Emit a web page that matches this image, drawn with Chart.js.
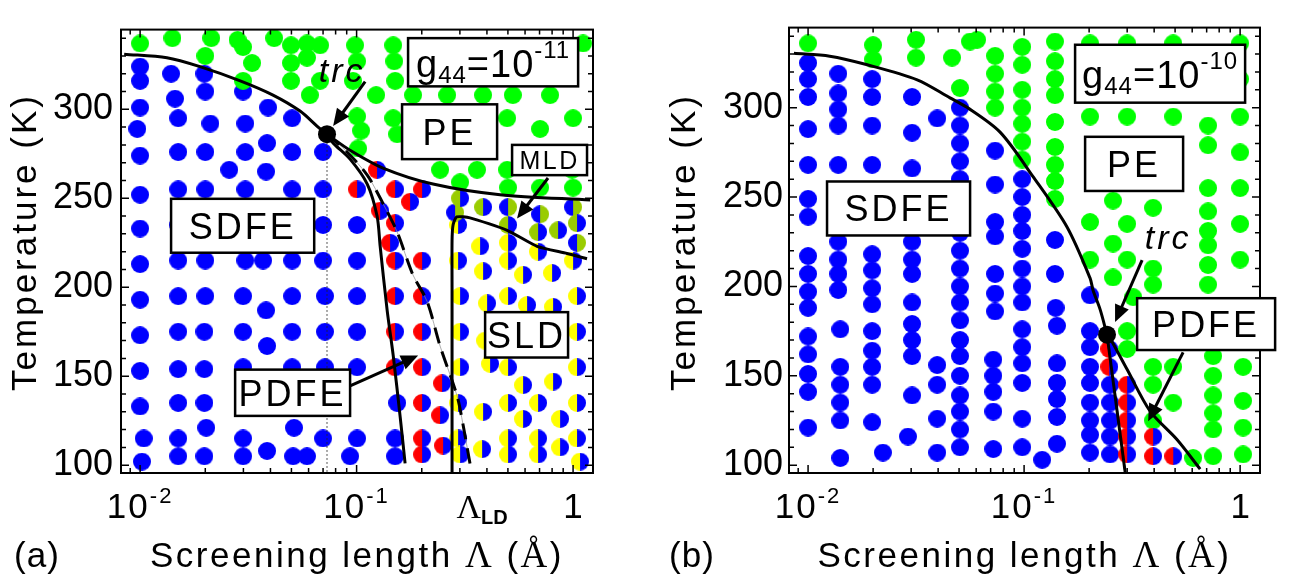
<!DOCTYPE html>
<html>
<head>
<meta charset="utf-8">
<script src="https://cdn.jsdelivr.net/npm/chart.js@4.4.1/dist/chart.umd.min.js"></script>
<style>
  html, body { margin: 0; padding: 0; background: #fff; }
  #wrap { position: relative; width: 1290px; height: 585px; }
  .panel { position: absolute; top: 0; width: 645px; height: 585px; }
</style>
</head>
<body>
<div id="wrap">
  <div class="panel" style="left:0"><canvas id="chartA" width="645" height="585"></canvas></div>
  <div class="panel" style="left:645px"><canvas id="chartB" width="645" height="585"></canvas></div>
</div>
<script>
const SANS = '"Liberation Sans", Arial, sans-serif';
const SERIF = '"Liberation Serif", "Times New Roman", serif';
const BLUE = '#0000ff', GREEN = '#00ff00', RED = '#ff0000', YELLOW = '#ffff00', OLIVE = '#99cc00';

// axes (screening length in angstrom, temperature in K)
const lambdaMin = 0.00816, lambdaMax = 1.236;
const tempMin = 95.6, tempMax = 344.8;
const tempTicks = [100, 150, 200, 250, 300];
const lambdaMajor = [0.01, 0.1, 1];

// ---- panel (a): g44 = 1e-11 ----
const aBlue = [
  [0.0100,324],[0.0100,316],[0.0100,301],[0.0097,289],[0.0100,274],[0.0100,252],[0.0100,233],[0.0100,213],[0.0100,193],[0.0100,173],[0.0100,153],[0.0100,133],[0.0104,115],[0.0102,102],
  [0.0139,320],[0.0145,306],[0.0150,295],[0.0150,276],[0.0150,255],[0.0150,235],[0.0150,215],[0.0150,195],[0.0150,175],[0.0150,154],[0.0150,135],[0.0150,115],[0.0150,105],
  [0.0198,320],[0.0200,310],[0.0211,292],[0.0200,276],[0.0200,255],[0.0200,235],[0.0200,215],[0.0200,195],[0.0198,175],[0.0198,154],[0.0198,135],[0.0202,121],[0.0198,105],
  [0.0258,266],
  [0.0299,310],[0.0306,292],[0.0306,276],[0.0306,255],[0.0306,235],[0.0306,215],[0.0299,195],[0.0299,175],[0.0299,155],[0.0299,135],[0.0299,115],[0.0299,105],
  [0.0390,301],[0.0386,281],[0.0382,265],[0.0370,215],[0.0382,187],[0.0386,167],[0.0386,108],
  [0.0504,295],[0.0504,276],[0.0504,255],[0.0504,235],[0.0504,215],[0.0504,195],[0.0504,175],[0.0504,155],[0.0504,135],[0.0514,121],[0.0509,105],
  [0.0700,276],[0.0700,255],[0.0700,235],[0.0700,215],[0.0715,195],[0.0715,175],[0.0715,155],[0.0715,135],[0.0700,115],[0.0590,105],
  [0.1005,235],[0.1005,215],[0.1005,195],[0.1005,175],[0.1005,155],[0.1005,115],[0.0933,105],
  [0.1539,135],[0.1506,115],[0.1506,105],
];
const aGreen = [
  [0.0100,337],[0.0141,340],[0.0213,340],[0.0282,339],[0.0299,335],[0.0416,340],[0.0498,336],[0.0590,337],[0.0678,336],[0.0984,336],[0.1476,336],[1.112,337],
  [0.0200,330],[0.0329,326],[0.0498,326],[0.0590,329],[0.1005,327],[0.1492,327],
  [0.0299,316],[0.0498,316],[0.0678,316],[0.0963,316],[0.1507,316],
  [0.0608,308],[0.1231,308],[0.1824,308],[0.262,308],[0.384,308],[0.527,308],[0.783,308],
  [0.1005,296],[0.1476,295],[0.496,295],[1.0,295],
  [0.1049,288],[0.1539,286],[0.704,289],
  [0.1016,278],
  [0.243,266],[0.360,266],[0.496,266],[0.99,266],
  [0.3007,259],[0.5009,256],[0.7041,256],[1.0,256],
];
const aRedBlue = [
  [0.1243,266],[0.1005,255],[0.1506,255],[0.2007,255],[0.1766,248],[0.1284,243],[0.1506,236],[0.1428,225],
  [0.1506,215],[0.2007,215],[0.1506,195],[0.2007,195],[0.1506,175],[0.2007,175],[0.1506,155],[0.2007,155],
  [0.2483,146],[0.2007,135],[0.2430,128],[0.2007,115],[0.2509,111],[0.2007,106],
];
const aOliveBlue = [[0.3007,250],[0.384,245],[0.5009,235],[0.6892,231],[0.8525,232],[1.043,236]];
const aBlueOlive = [[0.2851,242],[0.5009,245],[0.7041,241],[1.0,245],[1.043,225]];
const aYellowBlue = [
  [0.2943,235],[0.3719,223],[0.5009,225],[0.6892,220],[0.2943,215],[0.384,209],[0.5009,215],[0.5877,207],[0.7998,208],[1.0,215],
  [0.3007,195],[0.4008,191],[0.5009,195],[0.6131,190],[0.8083,189],[1.043,195],
  [0.3007,175],[0.3923,170],[0.5009,175],[0.7041,175],[1.043,175],
  [0.3007,155],[0.4137,157],[0.5009,155],[0.5877,145],[0.8083,147],[1.043,155],
  [0.2943,135],[0.384,130],[0.5009,135],[0.6892,135],[0.5877,126],[0.871,126],[1.043,135],
  [0.2943,115],[0.38,109],[0.5009,115],[0.6892,115],[0.5009,106],[0.6892,106],[0.871,110],[1.043,115],[1.077,102],[0.3007,106],
];
const aTrc = [[0.073, 286]];
const aUpperCurve = [[0.00844,331],[0.0133,329],[0.0189,324],[0.029,316],[0.0411,308],[0.0548,299],[0.0664,290],[0.073,286]];
const aLdCurve = [[0.073,286],[0.0933,277],[0.1324,267],[0.2254,258],[0.4601,252],[1.2,249]];
const aSldMldLine = [[0.276,95.6],[0.276,200],[0.276,226],[0.279,235],[0.29,239.5],[0.334,239],[0.496,232],[0.682,223],[0.938,219],[1.16,216]];
const aSolidCurve = [[0.073,286],[0.078,281],[0.0933,272],[0.112,258],[0.1243,240],[0.1285,223],[0.1384,187],[0.1475,162],[0.159,127],[0.1675,101]];
const aDashedCurve = [[0.073,286],[0.0904,276],[0.112,263],[0.1325,247],[0.154,231],[0.182,207],[0.2117,192],[0.243,167],[0.291,139],[0.31,123],[0.334,101]];
const aDottedLine = [[0.073,286],[0.073,95.6]];

// ---- panel (b): g44 = 1e-10 ----
const bBlue = [
  [0.0100,325],[0.0100,316],[0.0100,306],[0.0100,288],[0.0100,268],[0.0100,249],[0.0100,239],[0.0100,217],[0.0100,207],[0.0100,197],[0.0100,188],[0.0100,172],[0.0100,162],[0.0100,151],[0.0100,141],[0.0100,121],
  [0.0138,319],[0.0138,308],[0.0138,299],[0.0138,290],[0.0138,268],[0.0138,225],[0.0138,215],[0.0138,207],[0.0138,198],[0.0141,176],[0.0141,155],[0.0141,145],[0.0141,135],[0.0141,125],[0.0141,104],
  [0.0198,316],[0.0198,306],[0.0198,290],[0.0198,268],[0.0198,218],[0.0198,209],[0.0198,199],[0.0198,190],[0.0198,175],[0.0198,164],[0.0198,155],[0.0198,145],[0.0198,124],
  [0.0222,107],[0.0290,116],
  [0.0303,306],[0.0303,286],[0.0303,266],[0.0303,225],[0.0303,215],[0.0303,207],[0.0303,191],[0.0303,179],[0.0303,170],[0.0303,161],[0.0303,139],
  [0.0396,294],[0.0396,156],[0.0396,145],[0.0396,126],[0.0396,107],
  [0.0505,300],[0.0505,290],[0.0505,280],[0.0505,270],[0.0505,260],[0.0505,250],[0.0505,240],[0.0505,230],[0.0505,220],[0.0505,210],
  [0.0505,200],[0.0505,191],[0.0505,181],[0.0505,170],[0.0505,161],[0.0505,150],[0.0505,139],[0.0505,130],[0.0505,120],[0.0505,110],
  [0.0734,276],[0.0734,257],[0.0734,236],[0.0734,228],[0.0734,207],[0.0734,196],[0.0734,186],[0.0720,159],[0.0720,150],[0.0720,141],[0.0720,130],[0.0720,109],
  [0.098,260],[0.098,250],[0.098,240],[0.098,231],[0.098,221],[0.098,210],[0.098,200],[0.098,191],[0.098,176],[0.098,166],[0.098,157],[0.098,146],[0.098,126],[0.098,110],
  [0.1212,103],
  [0.139,226],[0.139,207],[0.140,188],[0.142,178],[0.142,157],[0.142,146],[0.142,137],[0.142,127],[0.142,112],
  [0.202,195],[0.202,175],[0.202,166],[0.202,155],[0.202,146],[0.202,135],[0.202,125],[0.202,117],[0.202,107],
  [0.25,145],[0.25,135],[0.25,125],[0.25,116],[0.25,106],
];
const bGreen = [
  [0.0100,336],[0.0200,335],[0.0200,327],[0.0316,338],[0.0316,328],[0.0464,328],[0.0505,311],[0.0562,337],[0.0606,338],
  [0.0734,329],[0.0734,319],[0.0734,309],[0.0734,300],
  [0.098,334],[0.098,324],[0.098,310],[0.098,300],[0.098,291],[0.098,281],[0.098,271],
  [0.139,337],[0.139,326],[0.139,316],[0.139,307],[0.139,292],[0.139,278],[0.139,268],[0.139,259],[0.139,249],
  [0.202,336],[0.202,295],[0.202,236],[0.202,215],
  [0.258,248],[0.258,224],[0.258,205],
  [0.30,336],[0.30,295],[0.30,235],[0.30,215],[0.32,194],[0.30,175],[0.30,165],
  [0.3955,244],[0.3955,210],[0.3955,201],[0.3955,155],[0.3955,145],[0.3955,125],
  [0.49,336],[0.49,295],[0.49,155],[0.49,135],
  [0.606,104],
  [0.711,290],[0.711,279],[0.711,255],[0.711,242],[0.711,231],[0.711,223],[0.711,212],[0.711,201],
  [0.75,161],[0.75,150],[0.75,139],[0.75,129],[0.75,120],[0.75,105],
  [1.0,336],[1.0,316],[1.0,295],[1.0,275],[1.0,255],[1.0,235],[1.0,215],
  [1.032,155],[1.032,136],[1.032,121],[1.032,106],
];
const bRedBlue = [[0.248,165],[0.248,155],[0.30,145],[0.30,135],[0.30,125],[0.30,116],[0.30,106],[0.3955,116],[0.3955,105],[0.49,105]];
const bTrc = [[0.242, 173]];
const bUpperCurve = [[0.0086,330.4],[0.0126,328.8],[0.0188,324],[0.032,315.6],[0.0454,305.5],[0.0544,300.2],[0.0774,286.3],[0.110,261.4],[0.158,233.2],[0.202,204.6],[0.2087,197.7],[0.225,187],[0.242,173]];
const bSteepLine = [[0.242,173],[0.294,95.6]];
const bRightCurve = [[0.242,173],[0.25,171],[0.30,153.5],[0.383,130.2],[0.51,114.3],[0.653,97.8]];

// ---- drawing helpers ----
function halfDot(left, right) {
  const c = document.createElement('canvas');
  c.width = 18; c.height = 18;
  const g = c.getContext('2d');
  g.fillStyle = left;
  g.beginPath(); g.arc(9, 9, 9, Math.PI / 2, Math.PI * 1.5); g.fill();
  g.fillStyle = right;
  g.beginPath(); g.arc(9, 9, 9, -Math.PI / 2, Math.PI / 2); g.fill();
  return c;
}

const toXY = pts => pts.map(([x, y]) => ({ x, y }));

function dotSet(points, left, right) {
  return { data: toXY(points), pointStyle: halfDot(left, right), pointRadius: 9, showLine: false, clip: false };
}

function lineSet(points, extra) {
  return Object.assign({
    data: toXY(points), showLine: true, pointRadius: 0, borderColor: '#000',
    borderWidth: 3, tension: 0.3, fill: false, clip: false,
  }, extra || {});
}

function markerSet(points) {
  return { data: toXY(points), pointStyle: 'circle', pointRadius: 9, backgroundColor: '#000', borderWidth: 0, clip: false };
}

function drawRuns(ctx, runs, cx, baseY, spacing) {
  ctx.letterSpacing = (spacing || 0) + 'px';
  let total = 0;
  runs.forEach(r => { ctx.font = r.font; r.w = ctx.measureText(r.text).width; total += r.w; });
  let x0 = cx - total / 2;
  ctx.textAlign = 'left';
  ctx.textBaseline = 'alphabetic';
  runs.forEach(r => { ctx.font = r.font; ctx.fillText(r.text, x0, baseY + (r.dy || 0)); x0 += r.w; });
  ctx.letterSpacing = '0px';
}

function drawArrow(ctx, x0, y0, x1, y1) {
  const ang = Math.atan2(y1 - y0, x1 - x0);
  const head = 17, half = 7.5;
  const c = Math.cos(ang), s = Math.sin(ang);
  ctx.lineWidth = 3;
  ctx.beginPath();
  ctx.moveTo(x0, y0);
  ctx.lineTo(x1 - head * 0.8 * c, y1 - head * 0.8 * s);
  ctx.stroke();
  ctx.beginPath();
  ctx.moveTo(x1, y1);
  ctx.lineTo(x1 - head * c - half * s, y1 - head * s + half * c);
  ctx.lineTo(x1 - head * c + half * s, y1 - head * s - half * c);
  ctx.closePath();
  ctx.fill();
}

const g44Runs = exp => [
  { text: 'g', font: `38px ${SANS}` },
  { text: '44', font: `24px ${SANS}`, dy: 6 },
  { text: '=10', font: `38px ${SANS}` },
  { text: exp, font: `24px ${SANS}`, dy: -19 },
];
const decadeRuns = exp => [
  { text: '10', font: `35px ${SANS}` },
  { text: exp, font: `22px ${SANS}`, dy: -15 },
];

function makeDecor(p) {
  return {
    id: 'decor',
    afterDatasetsDraw(chart) {
      const { ctx, chartArea: ca, scales: { x, y } } = chart;
      const px = v => x.getPixelForValue(v);
      const py = v => y.getPixelForValue(v);
      ctx.save();
      ctx.strokeStyle = '#000';
      ctx.fillStyle = '#000';
      // frame with inward ticks on all four sides
      ctx.lineWidth = 2;
      ctx.strokeRect(ca.left, ca.top, ca.right - ca.left, ca.bottom - ca.top);
      ctx.lineWidth = 1.5;
      ctx.beginPath();
      for (let t = 100; t <= tempMax; t += 10) {
        const len = t % 50 === 0 ? 8 : 5, yy = py(t);
        ctx.moveTo(ca.left, yy); ctx.lineTo(ca.left + len, yy);
        ctx.moveTo(ca.right, yy); ctx.lineTo(ca.right - len, yy);
      }
      [0.001, 0.01, 0.1, 1].forEach(d => {
        for (let k = 1; k <= 9; k++) {
          const v = k * d;
          if (v < lambdaMin || v > lambdaMax) continue;
          const len = k === 1 ? 8 : 5, xx = px(v);
          ctx.moveTo(xx, ca.bottom); ctx.lineTo(xx, ca.bottom - len);
          ctx.moveTo(xx, ca.top); ctx.lineTo(xx, ca.top + len);
        }
      });
      ctx.stroke();
      // labelled boxes
      p.boxes.forEach(b => {
        const l = px(b.x[0]), r = px(b.x[1]), t = py(b.y[0]), bt = py(b.y[1]);
        ctx.fillStyle = '#fff';
        ctx.fillRect(l, t, r - l, bt - t);
        ctx.lineWidth = 2.5;
        ctx.strokeRect(l, t, r - l, bt - t);
        ctx.fillStyle = '#000';
        const size = b.size || 36;
        const runs = b.runs || [{ text: b.text, font: `${size}px ${SANS}` }];
        drawRuns(ctx, runs, (l + r) / 2, (t + bt) / 2 + (b.base || size * 0.36), b.spacing === undefined ? 3 : b.spacing);
      });
      p.arrows.forEach(a => drawArrow(ctx, px(a[0][0]), py(a[0][1]), px(a[1][0]), py(a[1][1])));
      drawRuns(ctx, [{ text: 'trc', font: `italic 34px ${SANS}` }], px(p.trcText[0]), py(p.trcText[1]) + 12, 3);
      ctx.restore();
    },
    afterDraw(chart) {
      const { ctx, chartArea: ca, scales: { x } } = chart;
      ctx.save();
      ctx.fillStyle = '#000';
      // x tick labels
      drawRuns(ctx, decadeRuns('-2'), x.getPixelForValue(0.01), 518, 2);
      drawRuns(ctx, decadeRuns('-1'), x.getPixelForValue(0.1), 518, 2);
      drawRuns(ctx, [{ text: '1', font: `35px ${SANS}` }], x.getPixelForValue(1), 518, 0);
      if (p.ldTick) {
        drawRuns(ctx, [
          { text: 'Λ', font: `34px ${SERIF}` },
          { text: 'LD', font: `bold 20px ${SANS}`, dy: 6 },
        ], x.getPixelForValue(p.ldTick), 518, 0);
      }
      // axis titles
      drawRuns(ctx, [
        { text: 'Screening length ', font: `35px ${SANS}` },
        { text: 'Λ', font: `37px ${SERIF}` },
        { text: ' (', font: `35px ${SANS}` },
        { text: 'Å', font: `37px ${SERIF}` },
        { text: ')', font: `35px ${SANS}` },
      ], (ca.left + ca.right) / 2, 567, 2.5);
      ctx.save();
      ctx.translate(p.yTitleX, 242);
      ctx.rotate(-Math.PI / 2);
      drawRuns(ctx, [{ text: 'Temperature (K)', font: `35px ${SANS}` }], 0, 0, 3);
      ctx.restore();
      drawRuns(ctx, [{ text: p.letter, font: `35px ${SANS}` }], p.letterX, 567, 1);
      ctx.restore();
    },
  };
}

function buildChart(canvasId, p) {
  return new Chart(document.getElementById(canvasId), {
    type: 'scatter',
    data: { datasets: p.datasets },
    options: {
      responsive: false,
      animation: false,
      events: [],
      layout: { padding: { left: 0, right: p.padRight, top: 3, bottom: 0 } },
      plugins: { legend: { display: false }, tooltip: { enabled: false } },
      scales: {
        x: {
          type: 'logarithmic', min: lambdaMin, max: lambdaMax,
          afterFit: s => { s.height = 112; },
          afterBuildTicks: s => { s.ticks = lambdaMajor.map(v => ({ value: v })); },
          ticks: { display: false },
          grid: { display: false, drawTicks: false },
          border: { display: false },
        },
        y: {
          min: tempMin, max: tempMax,
          afterFit: s => { s.width = p.yWidth; },
          afterBuildTicks: s => { s.ticks = tempTicks.map(v => ({ value: v })); },
          ticks: { color: '#000', font: { family: SANS, size: 36 }, padding: p.tickPad },
          grid: { display: false, drawTicks: false },
          border: { display: false },
        },
      },
    },
    plugins: [makeDecor(p)],
  });
}

buildChart('chartA', {
  padRight: 52, yWidth: 121, tickPad: 8, yTitleX: 36, letter: '(a)', letterX: 37, ldTick: 0.38,
  trcText: [0.0857, 321.9],
  datasets: [
    markerSet(aTrc),
    lineSet(aDottedLine, { borderWidth: 1, borderDash: [1.5, 2.5], borderColor: '#222', tension: 0 }),
    lineSet(aUpperCurve),
    lineSet(aLdCurve),
    lineSet(aSldMldLine, { tension: 0.2 }),
    lineSet(aSolidCurve),
    lineSet(aDashedCurve, { borderDash: [16, 9] }),
    lineSet(aDashedCurve, { borderWidth: 0.7, borderColor: '#888' }),
    dotSet(aRedBlue, RED, BLUE),
    dotSet(aOliveBlue, OLIVE, BLUE),
    dotSet(aBlueOlive, BLUE, OLIVE),
    dotSet(aYellowBlue, YELLOW, BLUE),
    dotSet(aGreen, GREEN, GREEN),
    dotSet(aBlue, BLUE, BLUE),
  ],
  boxes: [
    { runs: g44Runs('-11'), x: [0.1729, 1.055], y: [340, 312.9], base: 14.5, spacing: 1 },
    { text: 'PE', x: [0.1622, 0.4457], y: [302.8, 272] },
    { text: 'MLD', size: 25, x: [0.5227, 1.16], y: [280, 263], spacing: 2.5 },
    { text: 'SDFE', x: [0.0139, 0.0637], y: [249.7, 219.4] },
    { text: 'PDFE', x: [0.02747, 0.0933], y: [153.7, 127.7] },
    { text: 'SLD', x: [0.3923, 0.948], y: [186, 160.5] },
  ],
  arrows: [
    [[0.1095, 315.6], [0.0779, 290.6]],
    [[0.0933, 144.6], [0.1924, 161.6]],
    [[0.766, 261.4], [0.551, 238.6]],
  ],
});

buildChart('chartB', {
  padRight: 30, yWidth: 144, tickPad: 6, yTitleX: 50, letter: '(b)', letterX: 47, ldTick: null,
  trcText: [0.4642, 227.9],
  datasets: [
    markerSet(bTrc),
    lineSet(bUpperCurve),
    lineSet(bSteepLine, { tension: 0 }),
    lineSet(bRightCurve),
    dotSet(bRedBlue, RED, BLUE),
    dotSet(bGreen, GREEN, GREEN),
    dotSet(bBlue, BLUE, BLUE),
  ],
  boxes: [
    { runs: g44Runs('-10'), x: [0.1722, 1.0546], y: [335.2, 302.8], base: 14.5, spacing: 1 },
    { text: 'PE', x: [0.1916, 0.5446], y: [283.7, 253.4] },
    { text: 'SDFE', x: [0.01224, 0.05623], y: [258.7, 228.5] },
    { text: 'PDFE', x: [0.3336, 1.452], y: [193.4, 164.4] },
  ],
  arrows: [
    [[0.3518, 214.7], [0.2638, 180.1]],
    [[0.5446, 163.1], [0.3751, 124.6]],
  ],
});
</script>
</body>
</html>
